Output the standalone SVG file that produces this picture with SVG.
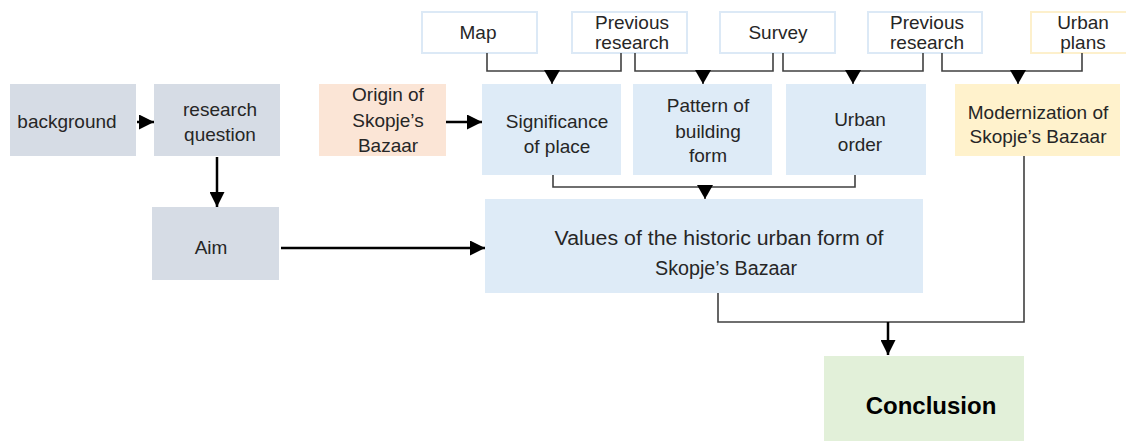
<svg xmlns="http://www.w3.org/2000/svg" width="1126" height="441" viewBox="0 0 1126 441">
<style>
text{font-family:"Liberation Sans",Arial,sans-serif;font-size:19px;fill:#262626;text-anchor:middle}
.src{fill:#ffffff;stroke:#dce9f6;stroke-width:2}
.srcy{fill:#ffffff;stroke:#fdf0cc;stroke-width:2}
.gray{fill:#d6dce5}
.blue{fill:#deebf7}
.peach{fill:#fbe5d6}
.yel{fill:#fff2cc}
.green{fill:#e2f0d9}
.br{fill:none;stroke:#404040;stroke-width:1.6}
.ar{fill:none;stroke:#000;stroke-width:2.5}
.vals{font-size:20px}
.conc{font-size:24px;font-weight:bold;fill:#000}
</style>
<defs>
<marker id="tri" markerUnits="userSpaceOnUse" markerWidth="14" markerHeight="16" viewBox="0 0 14 16" refX="14" refY="8" orient="auto"><path d="M0,0 L14,8 L0,16 z" fill="#000"/></marker>
<marker id="ah" markerUnits="userSpaceOnUse" markerWidth="15" markerHeight="15" viewBox="0 0 15 15" refX="15" refY="7.5" orient="auto"><path d="M0,0 L15,7.5 L0,15 z" fill="#000"/></marker>
</defs>

<g id="n-map"><rect class="src" x="422" y="12" width="115" height="41"/><text x="478" y="39">Map</text></g>
<g id="n-prev1"><rect class="src" x="572" y="12" width="115" height="41"/><text x="632" y="29">Previous</text><text x="632" y="49">research</text></g>
<g id="n-survey"><rect class="src" x="720" y="12" width="115" height="41"/><text x="778" y="39">Survey</text></g>
<g id="n-prev2"><rect class="src" x="868" y="12" width="114" height="41"/><text x="927" y="29">Previous</text><text x="927" y="49">research</text></g>
<g id="n-plans"><rect class="srcy" x="1031" y="12" width="115" height="41"/><text x="1083" y="29">Urban</text><text x="1083" y="49">plans</text></g>

<g id="n-background"><rect class="gray" x="10" y="84" width="126" height="72"/><text x="67" y="128">background</text></g>
<g id="n-question"><rect class="gray" x="154" y="84" width="126" height="72"/><text x="220" y="116">research</text><text x="220" y="141">question</text></g>
<g id="n-aim"><rect class="gray" x="152" y="207" width="127" height="73"/><text x="211" y="254">Aim</text></g>
<g id="n-origin"><rect class="peach" x="319" y="84" width="127" height="72"/><text x="388" y="101">Origin of</text><text x="388" y="127">Skopje’s</text><text x="388" y="152">Bazaar</text></g>
<g id="n-significance"><rect class="blue" x="482" y="84" width="139" height="91"/><text x="557" y="128">Significance</text><text x="557" y="153">of place</text></g>
<g id="n-pattern"><rect class="blue" x="633" y="84" width="139" height="91"/><text x="708" y="112">Pattern of</text><text x="708" y="138">building</text><text x="708" y="162">form</text></g>
<g id="n-order"><rect class="blue" x="786" y="84" width="140" height="91"/><text x="860" y="126">Urban</text><text x="860" y="151">order</text></g>
<g id="n-modern"><rect class="yel" x="955" y="84" width="165" height="72"/><text x="1038" y="119">Modernization of</text><text x="1038" y="143">Skopje’s Bazaar</text></g>
<g id="n-values"><rect class="blue" x="485" y="199" width="438" height="94"/><text class="vals" x="719" y="245" textLength="329" lengthAdjust="spacingAndGlyphs">Values of the historic urban form of</text><text class="vals" x="726" y="275" textLength="142" lengthAdjust="spacingAndGlyphs">Skopje’s Bazaar</text></g>
<g id="n-conclusion"><rect class="green" x="824" y="356" width="200" height="90"/><text class="conc" x="931" y="414">Conclusion</text></g>

<g id="connectors">
<polyline class="br" points="487,53 487,71 621,71 621,53"/>
<line class="br" x1="552" y1="71" x2="552" y2="84" marker-end="url(#tri)"/>
<polyline class="br" points="635,53 635,71 773,71 773,53"/>
<line class="br" x1="703" y1="71" x2="703" y2="84" marker-end="url(#tri)"/>
<polyline class="br" points="783,53 783,71 923,71 923,53"/>
<line class="br" x1="853" y1="71" x2="853" y2="84" marker-end="url(#tri)"/>
<polyline class="br" points="942,53 942,71 1082,71 1082,53"/>
<line class="br" x1="1018" y1="71" x2="1018" y2="84" marker-end="url(#tri)"/>
<polyline class="br" points="553,175 553,187 855,187 855,175"/>
<line class="br" x1="705" y1="187" x2="705" y2="199" marker-end="url(#tri)"/>
<polyline class="br" points="718,293 718,322 1024,322 1024,156"/>
<line class="ar" x1="888" y1="322" x2="888" y2="355" marker-end="url(#ah)"/>
<line class="ar" x1="137" y1="122" x2="154" y2="122" marker-end="url(#ah)"/>
<line class="ar" x1="217" y1="157" x2="217" y2="207" marker-end="url(#ah)"/>
<line class="ar" x1="446" y1="122" x2="482" y2="122" marker-end="url(#ah)"/>
<line class="ar" x1="281" y1="248" x2="485" y2="248" marker-end="url(#ah)"/>
</g>
</svg>
